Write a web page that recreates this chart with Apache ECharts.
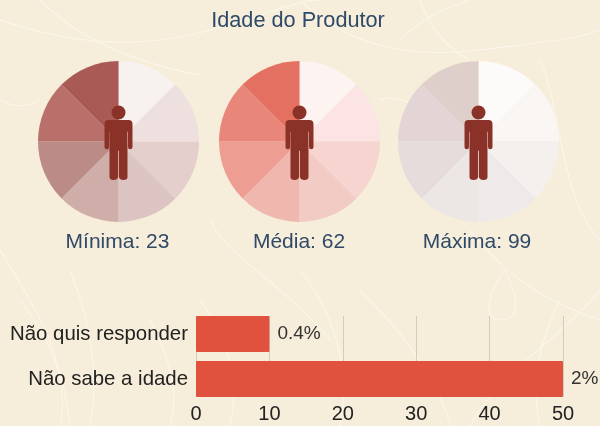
<!DOCTYPE html>
<html><head><meta charset="utf-8">
<style>html,body{margin:0;padding:0;background:#f6edda}#c{width:600px;height:426px}</style>
<script src="https://cdn.jsdelivr.net/npm/echarts@6/dist/echarts.min.js"></script>
</head><body><div id="c"></div>
<script>
const pieTitles = ['Mínima: 23', 'Média: 62', 'Máxima: 99'];
const sliceValues = [1, 1, 1, 1, 1, 1, 1, 1];
const minColors = ['#f7f2ef','#eee0df','#e5cfcc','#dcc4c2','#cfaeaa','#bb8b87','#b96f6a','#aa5a54'];
const medColors = ['#fdf3f1','#fbe4e3','#f6d4d0','#f3cbc5','#f0b7ae','#ee9d93','#e8867a','#e37060'];
const maxColors = ['#fdfbf9','#faf6f3','#f4f0ed','#efeaea','#ece6e5','#e6dcdc','#e3d5d5','#dfcfcb'];
const barCategories = ['Não quis responder', 'Não sabe a idade'];
const barValues = [10, 50];
const barLabels = ['0.4%', '2%'];
const axisTicks = [0, 10, 20, 30, 40, 50];

const pieCenters = [118.5, 299.5, 478.5];
const palettes = [minColors, medColors, maxColors];
const personPath = 'M14 0A7 7 0 1 1 14 14A7 7 0 1 1 14 0ZM4 14.5H24Q28 14.5 28 18.5V41Q28 43.5 25.5 43.5Q23.5 43.5 23.5 41V26H23V71Q23 74 19 74Q15 74 14.4 71V45H13.6V71Q13 74 9 74Q5 74 5 71V26H4.5V41Q4.5 43.5 2.5 43.5Q0 43.5 0 41V18.5Q0 14.5 4 14.5Z';
const bgCurves = [
  'M0 20C60 40 120 50 190 35S290 0 320 0','M40 0C70 30 120 60 200 75','M300 0C340 40 400 60 480 50S570 40 600 30',
  'M420 0C430 30 450 50 470 60','M0 250C30 300 60 340 70 426','M20 300C50 340 70 380 60 426','M90 426C100 370 90 320 70 270',
  'M230 426C240 380 230 340 200 300','M300 270C340 320 350 380 340 426','M360 290C400 330 440 380 450 426','M600 290C560 340 500 370 470 426',
  'M505 270C520 300 520 320 500 320S490 290 505 270Z','M0 100C20 110 30 105 40 100','M380 100C400 90 420 120 440 90','M210 220C230 260 280 280 330 340','M540 60C560 100 560 200 600 240',
  'M470 230C500 270 540 300 600 320','M150 320C170 360 180 390 170 426','M560 300C540 340 530 380 540 426','M400 40C420 20 440 10 470 0'
];
const pageBox = 'M0 0L0 0M600 426L600 426';

const chart = echarts.init(document.getElementById('c'), null, {renderer: 'canvas'});
const textEl = (t, x, y, size) => ({type: 'text', x: x, y: y, z: 10, silent: true,
  style: {text: t, fill: '#2f4a68', font: size + 'px "Liberation Sans"', align: 'center', verticalAlign: 'middle'}});

chart.setOption({
  backgroundColor: '#f6edda',
  animation: false,
  graphic: [textEl('Idade do Produtor', 298, 21, 21.7), ...pieTitles.map((t, i) => textEl(t, [117.5, 299, 477][i], 242, 21))],
  grid: [
    {left: 196, top: 311.5, width: 367, height: 90},
    {left: 196, top: 316, width: 367, height: 81}
  ],
  xAxis: [
    {type: 'value', gridIndex: 0, min: 0, max: 50, interval: 10, position: 'bottom',
      axisLine: {show: false}, axisTick: {show: false}, splitLine: {show: false},
      axisLabel: {color: '#222', fontSize: 20, margin: 3, fontFamily: 'Liberation Sans', showMinLabel: true, showMaxLabel: true}},
    {type: 'value', gridIndex: 1, min: 0, max: 50, interval: 10,
      axisLine: {show: false}, axisTick: {show: false}, axisLabel: {show: false},
      splitLine: {show: true, lineStyle: {color: '#d6ccba', width: 1}}}
  ],
  yAxis: [
    {type: 'category', gridIndex: 0, inverse: true, data: barCategories,
      axisLine: {show: false}, axisTick: {show: false},
      axisLabel: {color: '#222', fontSize: 20.4, margin: 8, fontFamily: 'Liberation Sans'}},
    {type: 'category', gridIndex: 1, data: barCategories, show: false}
  ],
  series: [
    {type: 'custom', coordinateSystem: 'none', silent: true, z: -1, data: bgCurves.map((d, i) => i),
      renderItem: (p, api) => ({type: 'path',
        shape: {pathData: pageBox + bgCurves[p.dataIndex], x: 0, y: 0, width: 600, height: 426, layout: 'cover'},
        style: {fill: 'none', stroke: '#fbf6ea', lineWidth: 1.2}})},
    ...palettes.map((colors, i) => ({
      type: 'pie', silent: true, z: 2, radius: [0, 80.5], center: [pieCenters[i], 141.5], startAngle: 90, clockwise: true,
      label: {show: false}, labelLine: {show: false},
      data: sliceValues.map((v, j) => ({value: v, itemStyle: {color: colors[j]}}))
    })),
    {type: 'custom', coordinateSystem: 'none', silent: true, z: 5, data: pieCenters,
      renderItem: (p, api) => ({type: 'path',
        shape: {pathData: personPath, x: pieCenters[p.dataIndex] - 14, y: 105.5, width: 28, height: 74.5, layout: 'cover'},
        style: {fill: '#8a3228'}})},
    {type: 'bar', xAxisIndex: 0, yAxisIndex: 0, barWidth: 36, silent: true, z: 3,
      itemStyle: {color: '#e0523e', borderRadius: 1},
      label: {show: true, position: 'right', distance: 8, color: '#333', fontSize: 19, fontFamily: 'Liberation Sans',
        formatter: p => barLabels[p.dataIndex]},
      data: barValues}
  ]
});
</script></body></html>
